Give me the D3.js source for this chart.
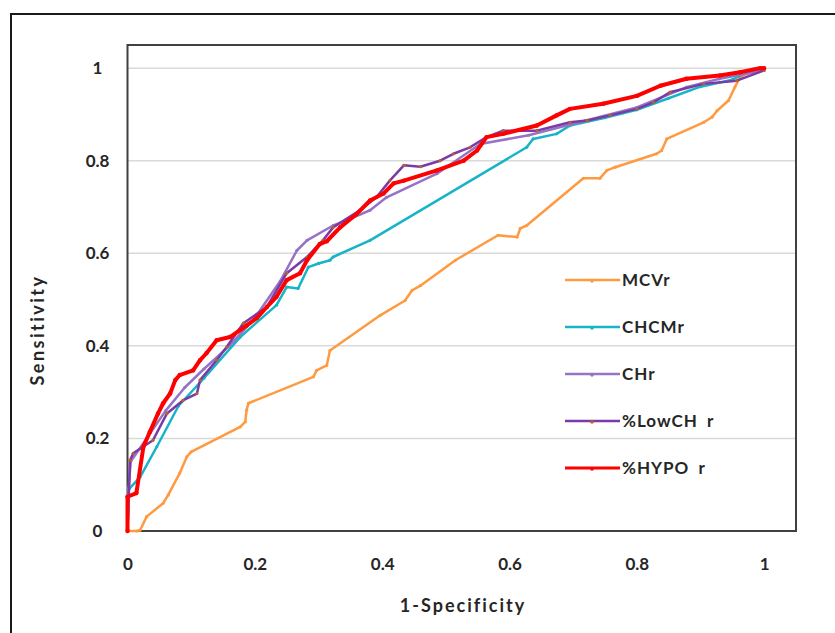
<!DOCTYPE html>
<html><head><meta charset="utf-8">
<script src="https://cdn.jsdelivr.net/npm/d3@7"></script>
<style>body{margin:0;background:#fff}svg{display:block}text{font-family:Lato,"Open Sans",sans-serif;font-weight:bold;fill:#262626}</style>
</head><body><svg id="c" width="835" height="633"></svg>
<script>
const xTicks=[0,0.2,0.4,0.6,0.8,1];
const yTicks=[0,0.2,0.4,0.6,0.8,1];
const xTickLabels=["0","0.2","0.4","0.6","0.8","1"];
const yTickLabels=["0","0.2","0.4","0.6","0.8","1"];
const seriesNames=["MCVr","CHCMr","CHr","%LowCH r","%HYPO r"];
const seriesColors=["#ff9a40","#17b4c8","#9673c4","#7a3aa8","#ff0000"];
const markerColors=["#ff9a40","#17b4c8","#9673c4","#b5622b","#ff0000"];
const mcvrX=[0,0.015,0.02,0.03,0.056,0.064,0.082,0.093,0.10,0.177,0.185,0.187,0.19,0.292,0.297,0.313,0.318,0.397,0.436,0.447,0.46,0.515,0.582,0.612,0.617,0.627,0.716,0.742,0.753,0.766,0.831,0.839,0.847,0.905,0.918,0.926,0.944,0.954,0.962,0.973,0.998,1];
const mcvrY=[0,0,0.002,0.031,0.06,0.078,0.125,0.16,0.171,0.225,0.236,0.261,0.276,0.333,0.347,0.358,0.39,0.466,0.498,0.52,0.53,0.585,0.639,0.635,0.654,0.66,0.762,0.762,0.779,0.786,0.815,0.822,0.847,0.883,0.894,0.908,0.93,0.959,0.98,0.988,0.998,1];
const chcmrX=[0,0.002,0.02,0.046,0.08,0.12,0.177,0.234,0.25,0.268,0.284,0.3,0.318,0.323,0.381,0.627,0.637,0.674,0.695,0.75,0.80,0.85,0.90,0.95,0.983,0.99,1];
const chcmrY=[0,0.09,0.117,0.182,0.27,0.33,0.419,0.488,0.527,0.524,0.57,0.578,0.585,0.592,0.628,0.829,0.847,0.858,0.876,0.893,0.91,0.935,0.96,0.975,0.998,1,1];
const chrX=[0,0.002,0.005,0.03,0.06,0.09,0.12,0.16,0.20,0.24,0.266,0.282,0.323,0.344,0.381,0.407,0.486,0.554,0.63,0.72,0.80,0.878,0.93,0.983,1];
const chrY=[0,0.093,0.15,0.2,0.26,0.31,0.35,0.4,0.46,0.54,0.606,0.628,0.66,0.671,0.693,0.721,0.772,0.836,0.855,0.887,0.915,0.959,0.977,0.991,1];
const lowchX=[0,0.004,0.009,0.04,0.062,0.087,0.109,0.114,0.14,0.156,0.182,0.219,0.25,0.282,0.307,0.323,0.365,0.391,0.412,0.434,0.46,0.491,0.512,0.538,0.564,0.59,0.643,0.695,0.722,0.758,0.80,0.826,0.852,0.905,0.957,1];
const lowchY=[0,0.153,0.168,0.196,0.254,0.282,0.297,0.326,0.369,0.398,0.449,0.484,0.557,0.592,0.628,0.656,0.693,0.721,0.757,0.79,0.787,0.80,0.815,0.829,0.851,0.865,0.865,0.883,0.887,0.898,0.912,0.926,0.948,0.966,0.973,0.995];
const hypoX=[0,0,0.014,0.025,0.035,0.048,0.056,0.067,0.075,0.082,0.103,0.114,0.124,0.14,0.161,0.187,0.203,0.219,0.234,0.25,0.271,0.282,0.302,0.313,0.334,0.36,0.381,0.402,0.418,0.434,0.486,0.528,0.549,0.564,0.59,0.643,0.674,0.695,0.747,0.80,0.837,0.878,0.93,0.962,0.994,1];
const hypoY=[0,0.074,0.082,0.182,0.214,0.254,0.276,0.297,0.326,0.337,0.347,0.369,0.384,0.412,0.419,0.444,0.46,0.484,0.506,0.542,0.557,0.585,0.62,0.626,0.656,0.685,0.714,0.729,0.751,0.757,0.779,0.80,0.822,0.851,0.858,0.876,0.898,0.912,0.923,0.94,0.962,0.977,0.984,0.991,1,1];
const seriesX=[mcvrX,chcmrX,chrX,lowchX,hypoX];
const seriesY=[mcvrY,chcmrY,chrY,lowchY,hypoY];

const svg=d3.select("#c");
const L=127.5,R=796,T=45,B=531;
const x=d3.scaleLinear().domain([0,1.05]).range([L,R]);
const y=d3.scaleLinear().domain([0,1.05]).range([B,T]);

svg.append("rect").attr("x",11).attr("y",14).attr("width",900).attr("height",700)
  .attr("fill","none").attr("stroke","#1a1a1a").attr("stroke-width",2);

svg.append("g").selectAll("line").data(yTicks.slice(1)).join("line")
  .attr("x1",L).attr("x2",R).attr("y1",d=>y(d)).attr("y2",d=>y(d))
  .attr("stroke","#d9d9d9").attr("stroke-width",1.5);

svg.append("rect").attr("x",L).attr("y",T).attr("width",R-L).attr("height",B-T)
  .attr("fill","none").attr("stroke","#404040").attr("stroke-width",2);

const xa=svg.append("g").attr("transform",`translate(0,${B})`)
  .call(d3.axisBottom(x).tickValues(xTicks).tickFormat((d,i)=>xTickLabels[i]).tickSize(0).tickPadding(27));
xa.select(".domain").remove();
xa.selectAll("text").attr("font-size",17).style("font-family","Lato,sans-serif").style("font-weight","bold").attr("fill","#262626");
const ya=svg.append("g").attr("transform",`translate(${L},0)`)
  .call(d3.axisLeft(y).tickValues(yTicks).tickFormat((d,i)=>yTickLabels[i]).tickSize(0).tickPadding(30));
ya.select(".domain").remove();
ya.selectAll("text").attr("font-size",17).attr("text-anchor","middle").style("font-family","Lato,sans-serif").style("font-weight","bold").attr("fill","#262626");

svg.append("text").attr("x",463).attr("y",612).attr("text-anchor","middle").attr("font-size",18)
  .attr("letter-spacing",2).text("1-Specificity");
svg.append("text").attr("transform","translate(44,330) rotate(-90)").attr("text-anchor","middle").attr("font-size",18)
  .attr("letter-spacing",2.5).text("Sensitivity");

const line=d3.line().x(d=>x(d[0])).y(d=>y(d[1]));
const widths=[2.5,2.5,2.5,2.5,4];
[0,1,2,3,4].forEach(i=>{
  const pts=seriesX[i].map((v,j)=>[v,seriesY[i][j]]);
  const g=svg.append("g");
  g.append("path").datum(pts).attr("d",line).attr("fill","none")
    .attr("stroke",seriesColors[i]).attr("stroke-width",widths[i]).attr("stroke-linejoin","round");
  g.selectAll("circle").data(pts).join("circle").attr("cx",d=>x(d[0])).attr("cy",d=>y(d[1]))
    .attr("r",i===4?2.2:1.6).attr("fill",markerColors[i]);
});

const lg=svg.append("g");
seriesNames.forEach((n,i)=>{
  const yy=280+i*47;
  lg.append("line").attr("x1",565).attr("x2",620).attr("y1",yy).attr("y2",yy)
    .attr("stroke",seriesColors[i]).attr("stroke-width",i===4?3:2.5);
  lg.append("circle").attr("cx",592).attr("cy",yy+1).attr("r",1.8).attr("fill",markerColors[i]);
  lg.append("text").attr("x",622).attr("y",yy+6).attr("font-size",17)
    .attr("letter-spacing",1).attr("word-spacing",4).text(n);
});
</script></body></html>
